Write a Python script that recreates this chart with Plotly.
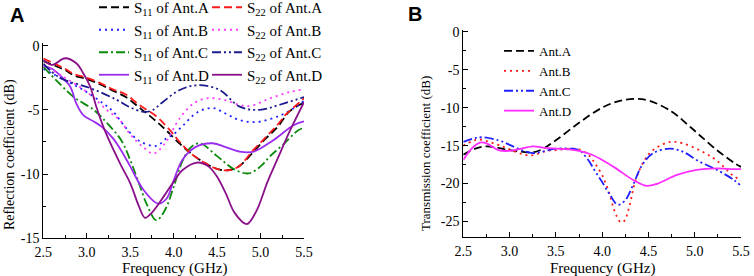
import plotly.graph_objects as go

# ---------------- Panel A data (reflection coefficient, dB) ----------------
f_s11_a = [2.5, 2.75, 2.85, 3.0, 3.15, 3.3, 3.45, 3.6, 3.75, 3.9, 4.05, 4.2, 4.35, 4.5, 4.62, 4.75, 4.9, 5.05, 5.2, 5.32, 5.45, 5.5]
s11_a = [-1.2, -1.9, -2.3, -2.6, -3.0, -3.5, -4.0, -4.8, -5.6, -6.5, -7.5, -8.4, -9.1, -9.6, -9.7, -9.4, -8.4, -7.3, -6.3, -5.2, -4.6, -4.5]

f_s22_a = [2.5, 2.75, 2.85, 3.0, 3.15, 3.3, 3.45, 3.6, 3.8, 3.96, 4.07, 4.2, 4.35, 4.5, 4.62, 4.75, 4.92, 5.05, 5.19, 5.3, 5.45, 5.5]
s22_a = [-1.0, -1.8, -2.2, -2.5, -2.9, -3.4, -3.8, -4.6, -5.5, -6.6, -7.5, -8.4, -9.1, -9.6, -9.7, -9.4, -8.1, -7.2, -6.2, -5.3, -4.4, -4.1]

f_s11_b = [2.5, 2.75, 2.96, 3.19, 3.3, 3.45, 3.6, 3.8, 3.92, 4.0, 4.11, 4.27, 4.45, 4.6, 4.76, 4.95, 5.22, 5.41, 5.5]
s11_b = [-1.8, -2.7, -3.45, -4.5, -5.1, -6.4, -7.4, -7.8, -7.2, -6.9, -6.2, -5.2, -4.85, -5.3, -5.8, -5.95, -5.45, -4.75, -4.3]

f_s22_b = [2.5, 2.75, 3.0, 3.23, 3.38, 3.5, 3.65, 3.77, 3.9, 4.07, 4.23, 4.38, 4.57, 4.75, 4.88, 5.11, 5.34, 5.5]
s22_b = [-1.5, -2.5, -3.6, -5.0, -5.8, -6.9, -7.9, -8.4, -7.6, -5.65, -4.5, -4.1, -4.2, -4.6, -4.7, -4.1, -3.6, -3.4]

f_s11_c = [2.5, 2.65, 2.85, 3.08, 3.23, 3.4, 3.5, 3.6, 3.7, 3.8, 3.9, 4.0, 4.1, 4.2, 4.3, 4.5, 4.69, 4.86, 5.0, 5.11, 5.26, 5.43, 5.5]
s11_c = [-1.65, -2.7, -4.0, -5.0, -6.0, -7.4, -8.9, -10.7, -12.5, -13.6, -12.8, -11.0, -9.0, -7.9, -7.6, -8.6, -9.6, -9.95, -9.4, -8.6, -7.7, -6.6, -6.4]

f_s22_c = [2.5, 2.69, 3.04, 3.34, 3.5, 3.65, 3.75, 3.88, 4.07, 4.28, 4.53, 4.76, 4.99, 5.22, 5.5]
s22_c = [-1.4, -2.5, -3.3, -4.2, -4.8, -5.15, -5.05, -4.36, -3.45, -3.08, -3.45, -4.75, -5.0, -4.6, -4.0]

f_s11_d = [2.5, 2.6, 2.69, 2.81, 2.88, 2.96, 3.08, 3.17, 3.3, 3.4, 3.5, 3.65, 3.82, 3.92, 4.0, 4.1, 4.25, 4.45, 4.6, 4.76, 4.92, 5.15, 5.38, 5.5]
s11_d = [-1.6, -1.8, -2.3, -3.2, -4.5, -5.4, -5.9, -6.3, -7.2, -8.2, -9.4, -11.2, -12.3, -11.9, -10.5, -8.9, -7.9, -7.6, -7.9, -8.25, -8.25, -7.35, -6.2, -5.9]

f_s22_d = [2.5, 2.6, 2.75, 2.88, 2.96, 3.04, 3.11, 3.19, 3.3, 3.4, 3.5, 3.6, 3.67, 3.75, 3.9, 4.0, 4.1, 4.27, 4.4, 4.5, 4.6, 4.7, 4.84, 4.95, 5.08, 5.19, 5.34, 5.5]
s22_d = [-1.1, -1.5, -0.98, -1.37, -2.15, -3.2, -4.75, -6.3, -8.0, -9.4, -10.7, -12.5, -13.4, -13.0, -11.6, -10.6, -9.7, -9.1, -9.4, -10.2, -11.5, -13.0, -13.9, -12.9, -10.6, -8.9, -6.6, -4.4]

# ---------------- Panel B data (transmission coefficient, dB) ----------------
f_ant_a = [2.5, 2.63, 2.75, 2.88, 3.0, 3.13, 3.25, 3.35, 3.5, 3.75, 4.0, 4.19, 4.37, 4.51, 4.75, 4.91, 5.05, 5.24, 5.43, 5.5]
t_ant_a = [-16.2, -15.4, -15.1, -15.3, -15.6, -15.8, -15.9, -15.5, -14.3, -12.0, -10.0, -9.1, -8.85, -9.1, -10.5, -12.1, -13.6, -15.6, -17.3, -17.8]

f_ant_b = [2.5, 2.6, 2.68, 2.8, 2.9, 3.0, 3.13, 3.22, 3.3, 3.4, 3.5, 3.65, 3.75, 3.85, 3.92, 4.0, 4.07, 4.14, 4.2, 4.24, 4.29, 4.36, 4.44, 4.53, 4.7, 4.78, 4.87, 5.05, 5.23, 5.41, 5.5]
t_ant_b = [-15.0, -14.4, -14.2, -14.6, -15.0, -15.5, -16.1, -16.3, -16.1, -15.7, -15.6, -15.4, -15.5, -16.2, -17.3, -18.9, -21.0, -23.8, -25.1, -24.9, -23.2, -19.6, -17.3, -15.8, -14.6, -14.5, -14.7, -15.6, -16.9, -18.9, -19.6]

f_ant_c = [2.5, 2.63, 2.7, 2.88, 3.0, 3.13, 3.25, 3.35, 3.5, 3.65, 3.75, 3.85, 3.92, 4.0, 4.08, 4.17, 4.25, 4.34, 4.43, 4.55, 4.73, 4.87, 5.05, 5.24, 5.42, 5.5]
t_ant_c = [-14.5, -14.0, -13.9, -14.3, -14.9, -15.6, -16.0, -15.8, -15.4, -15.4, -15.6, -16.9, -18.3, -19.8, -21.4, -22.8, -22.2, -20.0, -17.6, -16.0, -15.4, -15.8, -17.1, -18.2, -19.5, -20.3]

f_ant_d = [2.5, 2.59, 2.68, 2.75, 2.88, 3.0, 3.13, 3.25, 3.38, 3.5, 3.63, 3.75, 3.89, 4.0, 4.15, 4.33, 4.48, 4.6, 4.8, 5.02, 5.24, 5.42, 5.5]
t_ant_d = [-16.9, -15.4, -14.6, -14.7, -15.6, -15.7, -15.4, -15.1, -15.3, -15.4, -15.5, -15.7, -16.2, -16.9, -18.0, -19.5, -20.3, -20.0, -18.9, -18.2, -18.0, -18.1, -18.1]

# ---------------- Tick labels ----------------
x_ticks = [2.5, 3.0, 3.5, 4.0, 4.5, 5.0, 5.5]
x_ticktext = ["2.5", "3.0", "3.5", "4.0", "4.5", "5.0", "5.5"]
ya_ticks = [0, -5, -10, -15]
ya_ticktext = ["0", "-5", "-10", "-15"]
yb_ticks = [0, -5, -10, -15, -20, -25]
yb_ticktext = ["0", "-5", "-10", "-15", "-20", "-25"]

SERIF = "Liberation Serif, Times New Roman, serif"
SANS = "Liberation Sans, Arial, sans-serif"
W, H = 754, 276

fig = go.Figure()

def add(x, y, name, color, dash, xa, ya, legend, width=1.8):
    fig.add_trace(go.Scatter(
        x=x, y=y, name=name, mode="lines",
        line=dict(color=color, dash=dash, width=width, shape="spline", smoothing=1.0),
        xaxis=xa, yaxis=ya, legend=legend))

DASH = "8px,4px"
DOT = "2px,4px"
DASHDOT = "9px,3px,2px,3px"
DASHDOTDOT = "9px,3px,2px,3px,2px,3px"

# Panel A, column 1 (S11)
add(f_s11_a, s11_a, "S<sub>11</sub> of Ant.A", "#000000", DASH, "x", "y", "legend")
add(f_s11_b, s11_b, "S<sub>11</sub> of Ant.B", "#1f1fff", DOT, "x", "y", "legend")
add(f_s11_c, s11_c, "S<sub>11</sub> of Ant.C", "#0a8a0a", DASHDOT, "x", "y", "legend")
add(f_s11_d, s11_d, "S<sub>11</sub> of Ant.D", "#9a2cf0", "solid", "x", "y", "legend")
# Panel A, column 2 (S22)
add(f_s22_a, s22_a, "S<sub>22</sub> of Ant.A", "#ff1a1a", DASH, "x", "y", "legend2")
add(f_s22_b, s22_b, "S<sub>22</sub> of Ant.B", "#ff3cff", DOT, "x", "y", "legend2")
add(f_s22_c, s22_c, "S<sub>22</sub> of Ant.C", "#1c1c8c", DASHDOTDOT, "x", "y", "legend2")
add(f_s22_d, s22_d, "S<sub>22</sub> of Ant.D", "#8a108a", "solid", "x", "y", "legend2")
# Panel B
add(f_ant_a, t_ant_a, "Ant.A", "#000000", DASH, "x2", "y2", "legend3")
add(f_ant_b, t_ant_b, "Ant.B", "#ff1a1a", DOT, "x2", "y2", "legend3")
add(f_ant_c, t_ant_c, "Ant.C", "#1f1fff", DASHDOTDOT, "x2", "y2", "legend3")
add(f_ant_d, t_ant_d, "Ant.D", "#ff2cff", "solid", "x2", "y2", "legend3")

def px(v):
    return v / W

def py(v):
    return 1 - v / H

axis_common = dict(
    showline=True, linecolor="black", linewidth=1, mirror=False,
    showgrid=False, zeroline=False, automargin=False,
    ticks="inside", ticklen=5, tickwidth=1, tickcolor="black",
    tickfont=dict(family=SERIF, size=14, color="black"),
)

xcommon = dict(axis_common, range=[2.5, 5.5], tickvals=x_ticks, ticktext=x_ticktext,
               ticklabelstandoff=1,
               minor=dict(ticks="inside", ticklen=3, tickvals=[2.75, 3.25, 3.75, 4.25, 4.75, 5.25], tickcolor="black"))

def title_ann(text, x, y, size, angle=0):
    return dict(text=text, x=px(x), y=py(y), xref="paper", yref="paper",
                xanchor="center", yanchor="middle", showarrow=False, textangle=angle,
                font=dict(family=SERIF, size=size, color="black"))

fig.update_layout(
    width=W, height=H, autosize=False,
    margin=dict(l=0, r=0, t=0, b=0, autoexpand=False),
    paper_bgcolor="white", plot_bgcolor="white",
    hovermode=False,
    xaxis=dict(xcommon, domain=[px(43.3), px(304)], anchor="y"),
    xaxis2=dict(xcommon, domain=[px(463.3), px(741)], anchor="y2"),
    yaxis=dict(axis_common, range=[-15, 0.2], domain=[py(238.3), py(43.1)], anchor="x",
               tickvals=ya_ticks, ticktext=ya_ticktext,
               minor=dict(ticks="inside", ticklen=3, tickvals=[-2.5, -7.5, -12.5], tickcolor="black")),
    yaxis2=dict(axis_common, range=[-27, 0.2], domain=[py(236.7), py(30.2)], anchor="x2",
                tickvals=yb_ticks, ticktext=yb_ticktext,
                minor=dict(ticks="inside", ticklen=3, tickvals=[-2.5, -7.5, -12.5, -17.5, -22.5], tickcolor="black")),
    legend=dict(x=px(94), y=py(-9), xanchor="left", yanchor="top", bgcolor="rgba(0,0,0,0)",
                font=dict(family=SERIF, size=15, color="black"), itemwidth=30, tracegroupgap=0),
    legend2=dict(x=px(207), y=py(-9), xanchor="left", yanchor="top", bgcolor="rgba(0,0,0,0)",
                 font=dict(family=SERIF, size=15, color="black"), itemwidth=30, tracegroupgap=0),
    legend3=dict(x=px(499), y=py(36), xanchor="left", yanchor="top", bgcolor="rgba(0,0,0,0)",
                 font=dict(family=SERIF, size=13, color="black"), itemwidth=30, tracegroupgap=0),
    showlegend=True,
    annotations=[
        dict(text="<b>A</b>", x=px(8), y=py(2), xref="paper", yref="paper", xanchor="left", yanchor="top",
             showarrow=False, font=dict(family=SANS, size=20, color="black")),
        dict(text="<b>B</b>", x=px(406), y=py(1), xref="paper", yref="paper", xanchor="left", yanchor="top",
             showarrow=False, font=dict(family=SANS, size=20, color="black")),
        title_ann("Frequency (GHz)", 174, 268, 15),
        title_ann("Frequency (GHz)", 602, 268, 15),
        title_ann("Reflection coefficient (dB)", 10, 155, 14, -90),
        title_ann("Transmission coefficient (dB)", 425, 154, 13, -90),
    ],
)

fig.write_html("out.html", config={"displayModeBar": False},
               post_script="document.body.style.margin='0px';")
